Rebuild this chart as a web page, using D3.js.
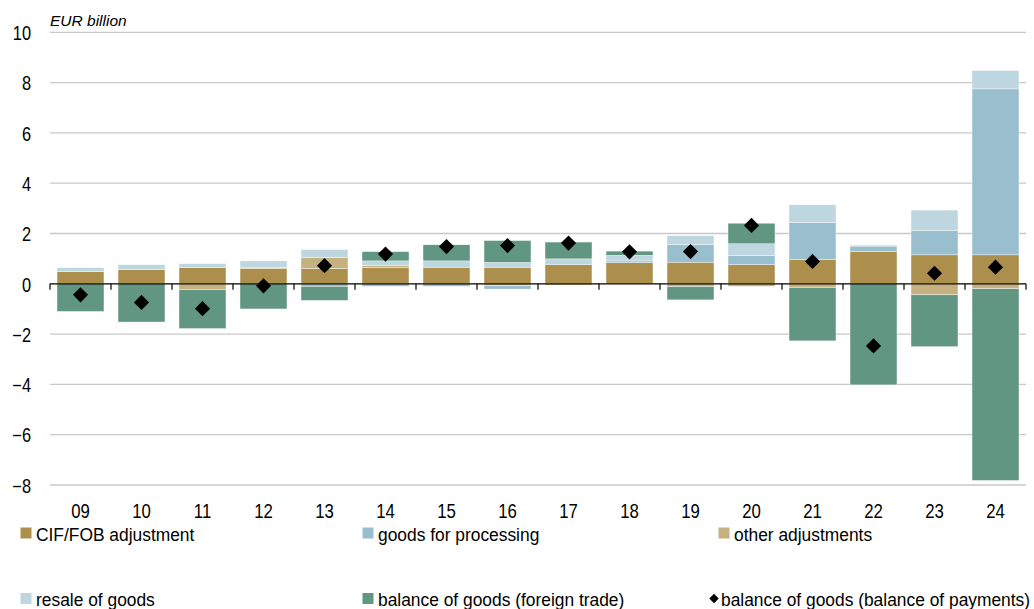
<!DOCTYPE html>
<meta charset="utf-8">
<script src="https://d3js.org/d3.v7.min.js"></script>
<style>
  body { margin: 0; background: #fff; }
  text { font-family: "Liberation Sans", Arial, sans-serif; fill: #000; }
</style>
<div id="chart"></div>
<script>
// data (EUR billion)
var years = ["09","10","11","12","13","14","15","16","17","18","19","20","21","22","23","24"];
var cifFob     = [0.48, 0.56, 0.65, 0.60, 0.61, 0.65, 0.66, 0.66, 0.76, 0.84, 0.86, 0.76, 0.97, 1.28, 1.15, 1.15];
var otherAdj   = [0, 0, -0.23, 0.06, 0.44, 0.08, 0, -0.08, -0.05, 0, -0.11, -0.10, -0.15, 0, -0.44, -0.20];
var processing = [0, 0, 0, 0, -0.10, -0.10, -0.10, -0.13, 0, 0.07, 0.69, 0.37, 1.47, 0.22, 0.97, 6.60];
var resale     = [0.16, 0.20, 0.15, 0.25, 0.31, 0.18, 0.25, 0.19, 0.23, 0.22, 0.36, 0.46, 0.70, 0.04, 0.81, 0.73];
var tradeBal   = [-1.10, -1.52, -1.55, -1.00, -0.56, 0.37, 0.64, 0.87, 0.67, 0.17, -0.53, 0.82, -2.12, -4.02, -2.06, -7.62];
var bopBal     = [-0.44, -0.74, -0.99, -0.08, 0.72, 1.18, 1.48, 1.52, 1.62, 1.27, 1.28, 2.32, 0.89, -2.47, 0.42, 0.66];
var yTicks = [-8, -6, -4, -2, 0, 2, 4, 6, 8, 10];

var keys = ["cif", "other", "proc", "resale", "trade"];
var colors = {cif: "#ad8f4d", other: "#c5b17f", proc: "#99bece", resale: "#bdd6df", trade: "#609682"};
var labels = {cif: "CIF/FOB adjustment", proc: "goods for processing", other: "other adjustments",
              resale: "resale of goods", trade: "balance of goods (foreign trade)"};

var rows = years.map(function(y, i) {
  return {year: y, cif: cifFob[i], other: otherAdj[i], proc: processing[i],
          resale: resale[i], trade: tradeBal[i], bop: bopBal[i]};
});

var W = 1034, H = 609;
var svg = d3.select("#chart").append("svg").attr("width", W).attr("height", H);

var x = d3.scaleBand().domain(years).range([50, 1026]).paddingInner(0.23).paddingOuter(0.115);
var y = d3.scaleLinear().domain([-8, 10]).range([485, 32.3]);

// gridlines
svg.append("g").selectAll("line")
  .data(yTicks.filter(function(d) { return d !== 0; }))
  .enter().append("line")
    .attr("x1", 50).attr("x2", 1026)
    .attr("y1", function(d) { return y(d); })
    .attr("y2", function(d) { return y(d); })
    .style("stroke", "#c8c8c8").style("stroke-width", 1.3);

// y labels (narrow look of the original)
svg.append("g").selectAll("text")
  .data(yTicks).enter().append("text")
    .attr("transform", function(d) { return "translate(31," + (y(d) + 7.7) + ") scale(0.84,1)"; })
    .attr("text-anchor", "end")
    .style("font-size", "19.5px")
    .text(function(d) { return d < 0 ? "\u2212" + Math.abs(d) : d; });

svg.append("text")
  .attr("x", 50).attr("y", 26)
  .style("font-size", "15.5px").style("font-style", "italic")
  .text("EUR billion");

// stacked bars
var series = d3.stack().keys(keys).offset(d3.stackOffsetDiverging)(rows);

svg.append("g").selectAll("g")
  .data(series).enter().append("g")
    .style("fill", function(d) { return colors[d.key]; })
  .selectAll("rect")
  .data(function(d) { return d; })
  .enter().append("rect")
    .attr("x", function(d) { return x(d.data.year); })
    .attr("width", x.bandwidth())
    .attr("y", function(d) { return y(Math.max(d[0], d[1])); })
    .attr("height", function(d) { return Math.abs(y(d[0]) - y(d[1])); })
    .style("stroke", "#fff").style("stroke-width", 0.4);

// zero axis with ticks at category borders
var step = x.step();
svg.append("line")
  .attr("x1", 50).attr("x2", 1026)
  .attr("y1", y(0)).attr("y2", y(0))
  .style("stroke", "#000").style("stroke-width", 1.2);
svg.append("g").selectAll("line")
  .data(years.concat(["end"])).enter().append("line")
    .attr("x1", function(d, i) { return 50 + i * step; })
    .attr("x2", function(d, i) { return 50 + i * step; })
    .attr("y1", y(0)).attr("y2", y(0) + 6)
    .style("stroke", "#000").style("stroke-width", 1.2);

// diamonds
svg.append("g").selectAll("path")
  .data(rows).enter().append("path")
    .attr("d", d3.symbol().type(d3.symbolSquare).size(115))
    .attr("transform", function(d) {
      return "translate(" + (x(d.year) + x.bandwidth() / 2) + "," + y(d.bop) + ") rotate(45)";
    })
    .style("fill", "#000");

// x labels
svg.append("g").selectAll("text")
  .data(years).enter().append("text")
    .attr("transform", function(d) {
      return "translate(" + (x(d) + x.bandwidth() / 2) + ",517.5) scale(0.84,1)";
    })
    .attr("text-anchor", "middle")
    .style("font-size", "20px")
    .text(function(d) { return d; });

// legend
var legend = [
  {key: "cif", x: 20, y: 533}, {key: "proc", x: 362, y: 533}, {key: "other", x: 718, y: 533},
  {key: "resale", x: 20, y: 598.5}, {key: "trade", x: 362, y: 598.5}, {key: "bop", x: 718, y: 598.5}
];
var lg = svg.append("g").selectAll("g").data(legend).enter().append("g")
  .attr("transform", function(d) { return "translate(" + d.x + "," + d.y + ")"; });
lg.filter(function(d) { return d.key !== "bop"; }).append("rect")
  .attr("x", 0.5).attr("y", -5.5).attr("width", 11).attr("height", 11)
  .style("fill", function(d) { return colors[d.key]; });
lg.filter(function(d) { return d.key !== "bop"; }).append("text")
  .attr("transform", "translate(16,7.5) scale(0.94,1)")
  .style("font-size", "18.5px")
  .text(function(d) { return labels[d.key]; });
lg.filter(function(d) { return d.key === "bop"; }).append("path")
  .attr("d", d3.symbol().type(d3.symbolSquare).size(45))
  .attr("transform", "translate(-4,0) rotate(45)")
  .style("fill", "#000");
lg.filter(function(d) { return d.key === "bop"; }).append("text")
  .attr("transform", "translate(3,7.5) scale(0.94,1)")
  .style("font-size", "18.5px")
  .text("balance of goods (balance of payments)");
</script>
